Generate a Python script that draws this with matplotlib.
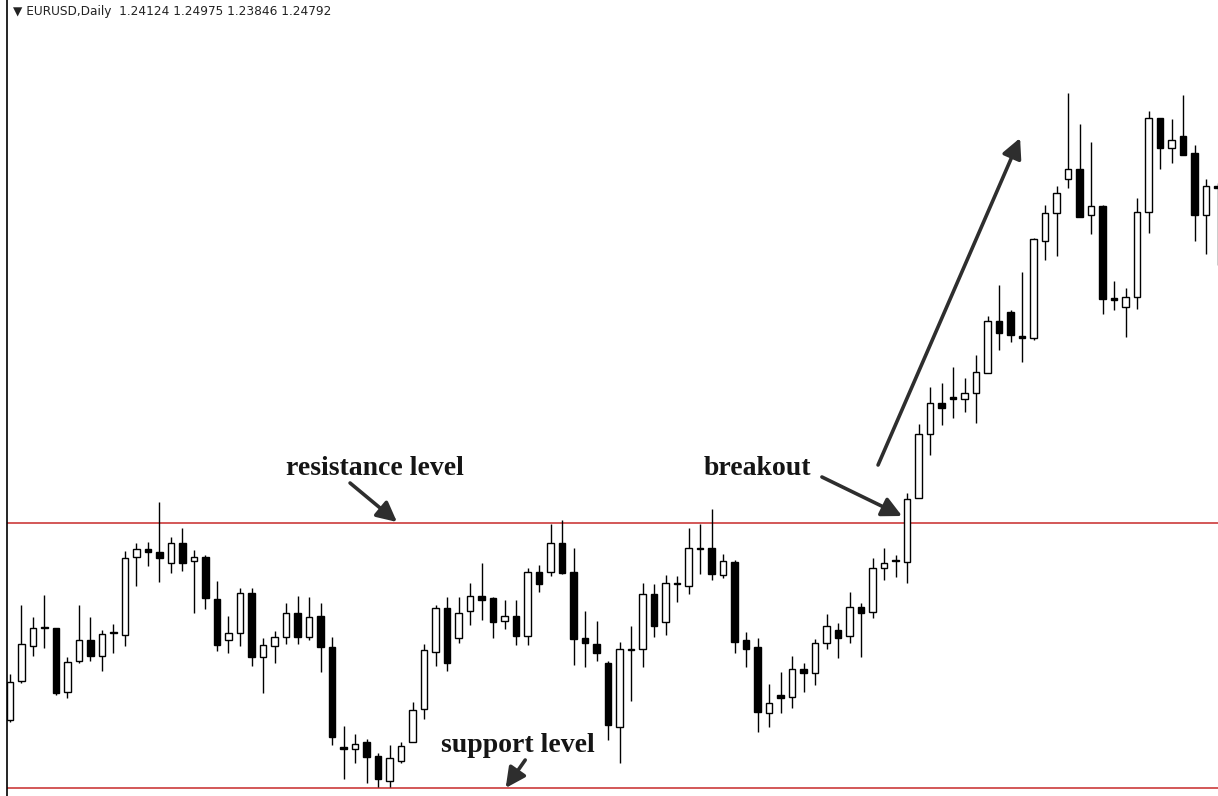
import matplotlib.pyplot as plt
import numpy as np

# EURUSD daily candles (oldest first)
opens = [1.2280, 1.2319, 1.2354, 1.2373, 1.2372, 1.2308, 1.2339, 1.2360, 1.2344, 1.2367,
         1.2365, 1.2443, 1.2451, 1.2448, 1.2437, 1.2457, 1.2439, 1.2443, 1.2401, 1.2360,
         1.2367, 1.2407, 1.2343, 1.2354, 1.2363, 1.2387, 1.2363, 1.2384, 1.2353, 1.2253,
         1.2251, 1.2258, 1.2244, 1.2219, 1.2239, 1.2258, 1.2291, 1.2348, 1.2392, 1.2362,
         1.2389, 1.2404, 1.2402, 1.2379, 1.2384, 1.2364, 1.2428, 1.2428, 1.2457, 1.2428,
         1.2362, 1.2356, 1.2337, 1.2273, 1.2350, 1.2351, 1.2406, 1.2378, 1.2417, 1.2414,
         1.2452, 1.2452, 1.2425, 1.2438, 1.2360, 1.2353, 1.2287, 1.2305, 1.2303, 1.2331,
         1.2327, 1.2357, 1.2370, 1.2364, 1.2393, 1.2388, 1.2432, 1.2440, 1.2438, 1.2502,
         1.2566, 1.2597, 1.2603, 1.2601, 1.2607, 1.2627, 1.2679, 1.2688, 1.2664, 1.2662,
         1.2759, 1.2787, 1.2821, 1.2831, 1.2785, 1.2794, 1.2702, 1.2693, 1.2703, 1.2788,
         1.2882, 1.2852, 1.2864, 1.2847, 1.2785, 1.2814]
highs = [1.2326, 1.2395, 1.2383, 1.2405, 1.2372, 1.2343, 1.2395, 1.2383, 1.2370, 1.2376,
         1.2449, 1.2457, 1.2458, 1.2498, 1.2463, 1.2472, 1.2450, 1.2445, 1.2419, 1.2384,
         1.2412, 1.2412, 1.2362, 1.2369, 1.2397, 1.2404, 1.2403, 1.2397, 1.2363, 1.2274,
         1.2266, 1.2261, 1.2247, 1.2255, 1.2258, 1.2298, 1.2356, 1.2395, 1.2403, 1.2403,
         1.2417, 1.2437, 1.2403, 1.2400, 1.2400, 1.2432, 1.2435, 1.2476, 1.2480, 1.2452,
         1.2389, 1.2379, 1.2339, 1.2358, 1.2374, 1.2417, 1.2416, 1.2425, 1.2424, 1.2472,
         1.2476, 1.2491, 1.2446, 1.2440, 1.2368, 1.2362, 1.2316, 1.2328, 1.2344, 1.2337,
         1.2361, 1.2386, 1.2377, 1.2408, 1.2397, 1.2442, 1.2452, 1.2445, 1.2507, 1.2576,
         1.2613, 1.2617, 1.2633, 1.2622, 1.2645, 1.2684, 1.2715, 1.2690, 1.2728, 1.2762,
         1.2795, 1.2814, 1.2907, 1.2876, 1.2858, 1.2795, 1.2719, 1.2712, 1.2802, 1.2889,
         1.2882, 1.2881, 1.2905, 1.2855, 1.2821, 1.2817]
lows = [1.2278, 1.2317, 1.2344, 1.2352, 1.2305, 1.2302, 1.2337, 1.2339, 1.2329, 1.2347,
        1.2354, 1.2414, 1.2434, 1.2418, 1.2427, 1.2429, 1.2387, 1.2391, 1.2349, 1.2347,
        1.2354, 1.2334, 1.2307, 1.2337, 1.2356, 1.2356, 1.2360, 1.2328, 1.2255, 1.2221,
        1.2237, 1.2217, 1.2213, 1.2213, 1.2237, 1.2258, 1.2281, 1.2334, 1.2329, 1.2357,
        1.2375, 1.2380, 1.2362, 1.2371, 1.2355, 1.2355, 1.2408, 1.2424, 1.2426, 1.2335,
        1.2333, 1.2339, 1.2260, 1.2237, 1.2299, 1.2333, 1.2363, 1.2365, 1.2398, 1.2406,
        1.2426, 1.2420, 1.2422, 1.2347, 1.2333, 1.2268, 1.2273, 1.2287, 1.2292, 1.2308,
        1.2315, 1.2351, 1.2342, 1.2357, 1.2343, 1.2382, 1.2420, 1.2423, 1.2417, 1.2502,
        1.2545, 1.2575, 1.2582, 1.2588, 1.2577, 1.2627, 1.2650, 1.2658, 1.2638, 1.2660,
        1.2740, 1.2744, 1.2812, 1.2783, 1.2766, 1.2686, 1.2690, 1.2663, 1.2691, 1.2767,
        1.2831, 1.2837, 1.2845, 1.2759, 1.2746, 1.2735]
closes = [1.2318, 1.2356, 1.2372, 1.2372, 1.2307, 1.2338, 1.2360, 1.2344, 1.2366, 1.2368,
          1.2442, 1.2451, 1.2448, 1.2442, 1.2457, 1.2437, 1.2443, 1.2402, 1.2355, 1.2367,
          1.2407, 1.2343, 1.2355, 1.2363, 1.2387, 1.2363, 1.2383, 1.2353, 1.2263, 1.2251,
          1.2256, 1.2243, 1.2221, 1.2242, 1.2254, 1.2290, 1.2350, 1.2392, 1.2337, 1.2387,
          1.2404, 1.2400, 1.2378, 1.2384, 1.2364, 1.2428, 1.2416, 1.2457, 1.2427, 1.2361,
          1.2357, 1.2347, 1.2275, 1.2351, 1.2351, 1.2406, 1.2374, 1.2417, 1.2416, 1.2452,
          1.2451, 1.2426, 1.2439, 1.2358, 1.2351, 1.2288, 1.2297, 1.2302, 1.2331, 1.2327,
          1.2357, 1.2374, 1.2362, 1.2393, 1.2387, 1.2432, 1.2437, 1.2439, 1.2501, 1.2566,
          1.2597, 1.2592, 1.2601, 1.2607, 1.2628, 1.2679, 1.2667, 1.2665, 1.2662, 1.2761,
          1.2787, 1.2807, 1.2831, 1.2783, 1.2794, 1.2701, 1.2700, 1.2703, 1.2788, 1.2882,
          1.2852, 1.2860, 1.2845, 1.2785, 1.2814, 1.2812]

resistance = 1.2477
support = 1.2212
header = '\u25bc EURUSD,Daily  1.24124 1.24975 1.23846 1.24792'

o = np.array(opens)
h = np.array(highs)
l = np.array(lows)
c = np.array(closes)
x = np.arange(len(o))
up = c >= o

fig = plt.figure(figsize=(12.18, 7.96), dpi=100)
ax = fig.add_axes([7 / 1218, 0, 1 - 7 / 1218, 1])

# wicks then bodies
ax.vlines(x, l, h, color='black', lw=1.0, zorder=2)
body = np.maximum(np.abs(c - o), 0.00012)
ax.bar(x, body, bottom=np.minimum(o, c), width=0.6,
       color=np.where(up, 'white', 'black'), edgecolor='black', linewidth=1.0, zorder=3)

ax.axhline(resistance, color='#cc3b3b', lw=1.2, zorder=1)
ax.axhline(support, color='#cc3b3b', lw=1.2, zorder=1)

ax.set_xlim(-0.26, 105.04)
ax.set_ylim(1.2204, 1.3)
ax.set_xticks([])
ax.set_yticks([])
for s in ['top', 'right', 'bottom']:
    ax.spines[s].set_visible(False)
ax.spines['left'].set_linewidth(1.2)

# annotations
txt = dict(fontsize=20, fontweight='bold', family='Liberation Serif', color='#151515',
           ha='center', va='center')
arrow = dict(arrowstyle='-|>', color='#2e2e2e', lw=2.6, mutation_scale=30, shrinkA=0, shrinkB=0)

ax.text(31.7, 1.2531, 'resistance level', **txt)
ax.annotate('', xy=(33.65, 1.2478), xytext=(29.57, 1.2517), arrowprops=arrow)

ax.text(44.2, 1.2254, 'support level', **txt)
ax.annotate('', xy=(43.1, 1.2212), xytext=(44.8, 1.2240), arrowprops=arrow)

ax.text(65.0, 1.2531, 'breakout', **txt)
ax.annotate('', xy=(77.57, 1.2484), xytext=(70.6, 1.2523), arrowprops=arrow)

ax.annotate('', xy=(87.83, 1.2862), xytext=(75.48, 1.2535), arrowprops=arrow)

fig.text(13 / 1218, 1 - 12 / 796, header, fontsize=8.7, va='center', ha='left',
         family='DejaVu Sans', color='#222222')

fig.savefig('out.png', dpi=100)
